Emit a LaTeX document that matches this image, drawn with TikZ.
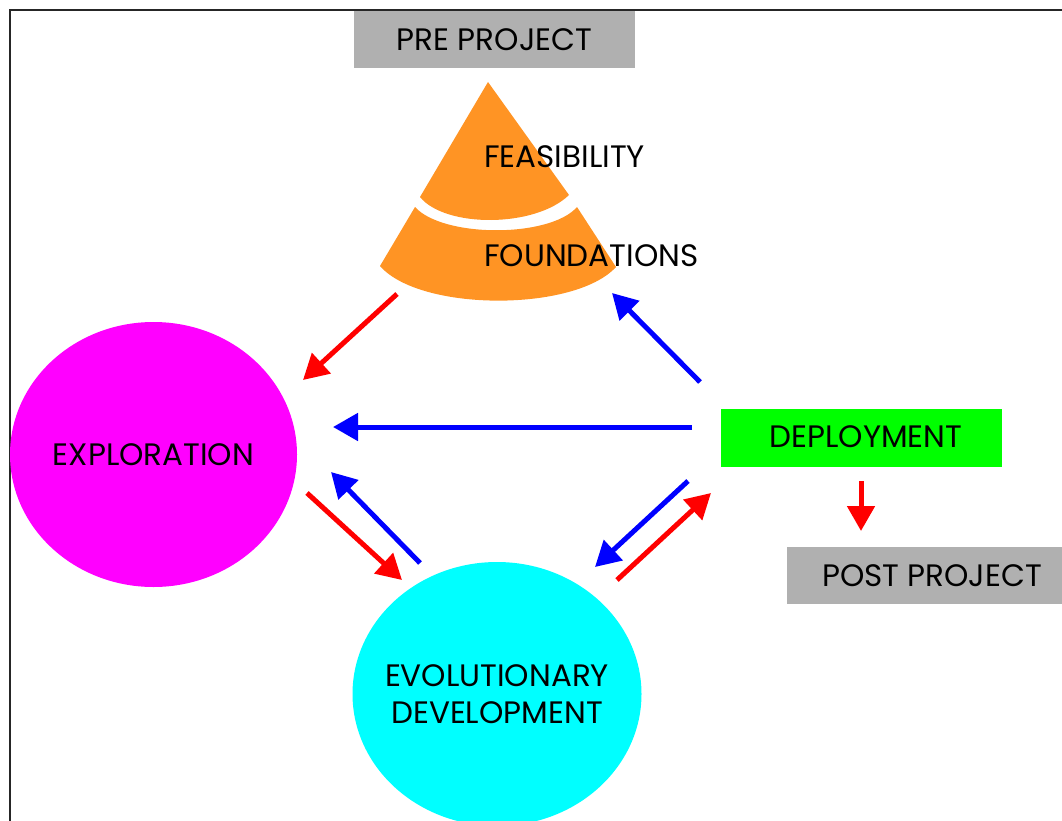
\documentclass[tikz,border=0pt]{standalone}
\usepackage{fontspec}
\setmainfont{Poppins}
\usetikzlibrary{arrows.meta,shapes.geometric}
\definecolor{boxgray}{HTML}{B0B0B0}
\definecolor{pyrorange}{HTML}{FF9424}
\definecolor{exmagenta}{HTML}{FF00FF}
\definecolor{evcyan}{HTML}{00FFFF}
\definecolor{dpgreen}{HTML}{00FF00}

\begin{document}
\begin{tikzpicture}[x=1pt,y=-1pt,
    lbl/.style={font=\fontsize{31}{37}\selectfont,text=black,inner sep=0pt},
    grbox/.style={fill=boxgray,minimum height=57pt,inner sep=0pt},
    redarr/.style={red,line width=5pt,-{Triangle[length=25pt,width=27pt]}},
    bluearr/.style={blue,line width=5pt,-{Triangle[length=25pt,width=27pt]}}]
    \useasboundingbox (0,0) rectangle (1062,821);
    \draw[line width=2pt,black!85](9.5,821)--(9.5,10.5)--(1062,10.5);

    % pre project and the pyramid
    \node[grbox,minimum width=281pt](pre) at (494.5,39.5){};
    \node[lbl](pretxt) at (pre){PRE PROJECT};
    \fill[pyrorange](488,82)--(420,197) .. controls (445,228) and (535,228) .. (569,195)--cycle;
    \fill[pyrorange](415,207) .. controls (443,238) and (550,238) .. (577,207)--(616,267)
        .. controls (575,312) and (420,312) .. (380,266)--cycle;
    \node[lbl,anchor=west](feas) at (484,157){FEASIBILITY};
    \node[lbl,anchor=west](found) at (484,255.5){FOUNDATIONS};

    % the three phases
    \node[fill=exmagenta,ellipse,minimum width=287pt,minimum height=265pt,inner sep=0pt](explo) at (153.5,454.5){};
    \node[lbl](explotxt) at (explo){EXPLORATION};
    \node[fill=evcyan,ellipse,minimum width=289pt,minimum height=264pt,inner sep=0pt](evo) at (497,694){};
    \node[lbl,align=center](evotxt) at (497,694.5){EVOLUTIONARY\\[0pt]DEVELOPMENT};
    \node[fill=dpgreen,minimum width=281pt,minimum height=58pt,inner sep=0pt](depl) at (861.5,438){};
    \node[lbl](depltxt) at (866,437){DEPLOYMENT};
    \node[grbox,minimum width=276pt](post) at (925,575.5){};
    \node[lbl](posttxt) at (932,576){POST PROJECT};

    % arrow ends
    \coordinate(a1) at (397,294); \coordinate(b1) at (303,380);
    \coordinate(a2) at (700,382); \coordinate(b2) at (612,293);
    \coordinate(a3) at (692,427); \coordinate(b3) at (333,427);
    \coordinate(a4) at (307,493); \coordinate(b4) at (402,580);
    \coordinate(a5) at (420,563); \coordinate(b5) at (331,472);
    \coordinate(a6) at (688,481); \coordinate(b6) at (595,567);
    \coordinate(a7) at (617,580); \coordinate(b7) at (711,493);
    \coordinate(a8) at (861,481); \coordinate(b8) at (861,531);

    \draw[redarr](a1)--(b1);
    \draw[bluearr](a2)--(b2);
    \draw[bluearr](a3)--(b3);
    \draw[redarr](a4)--(b4);
    \draw[bluearr](a5)--(b5);
    \draw[bluearr](a6)--(b6);
    \draw[redarr](a7)--(b7);
    \draw[redarr](a8)--(b8);
\end{tikzpicture}
\end{document}
